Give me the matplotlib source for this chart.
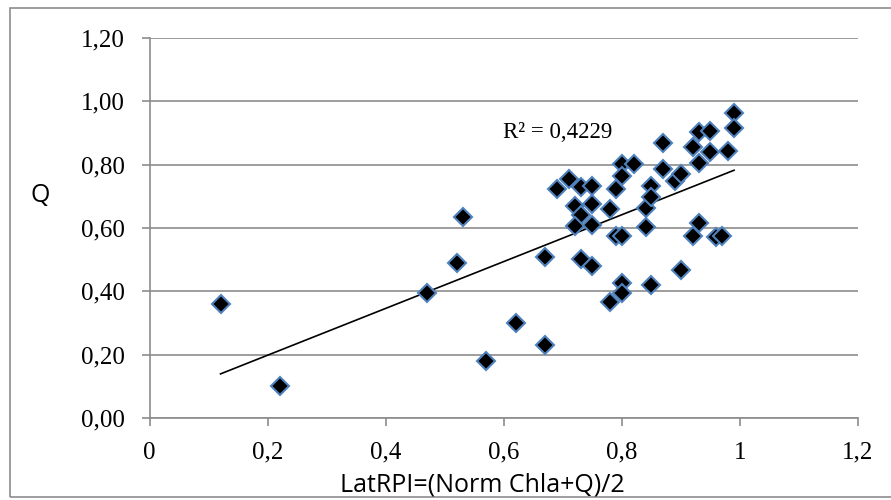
import numpy as np
import matplotlib.pyplot as plt
from matplotlib.patches import Rectangle
from matplotlib.ticker import FuncFormatter

# LatRPI vs Q values
lat_rpi = [0.12, 0.22, 0.47, 0.52, 0.53, 0.57, 0.62, 0.67, 0.67,
           0.69, 0.71, 0.73, 0.75, 0.72, 0.75, 0.73, 0.72, 0.75, 0.73, 0.75,
           0.78, 0.79, 0.80, 0.82, 0.80, 0.79, 0.80, 0.80, 0.80, 0.78,
           0.84, 0.85, 0.85, 0.84, 0.85,
           0.87, 0.87, 0.89, 0.90, 0.90,
           0.92, 0.93, 0.95, 0.93, 0.95, 0.98, 0.99, 0.99,
           0.93, 0.92, 0.96, 0.97]
q_vals = [0.36, 0.10, 0.395, 0.49, 0.635, 0.18, 0.30, 0.51, 0.23,
          0.723, 0.754, 0.728, 0.733, 0.669, 0.675, 0.641, 0.606, 0.609, 0.502, 0.481,
          0.660, 0.723, 0.802, 0.802, 0.764, 0.576, 0.576, 0.425, 0.394, 0.367,
          0.662, 0.733, 0.697, 0.602, 0.420,
          0.867, 0.786, 0.749, 0.772, 0.467,
          0.857, 0.904, 0.907, 0.806, 0.839, 0.844, 0.962, 0.915,
          0.617, 0.576, 0.572, 0.576]
r2_label = "R² = 0,4229"
x_ticks = [0, 0.2, 0.4, 0.6, 0.8, 1, 1.2]
y_ticks = [0, 0.2, 0.4, 0.6, 0.8, 1.0, 1.2]

fig = plt.figure(figsize=(8.91, 5.0), dpi=100)
ax = fig.add_axes([0.168, 0.164, 0.795, 0.760])

ax.plot(lat_rpi, q_vals, linestyle='none', marker='D', markersize=9,
        markerfacecolor='black', markeredgecolor='#4F81BD', markeredgewidth=1.5, zorder=3)

# linear trend line
k, b = np.polyfit(lat_rpi, q_vals, 1)
xs = np.array([min(lat_rpi), max(lat_rpi)])
ax.plot(xs, k * xs + b, color='black', linewidth=1.2, zorder=2)

ax.text(0.598, 0.90, r2_label, fontsize=16.5, family='Liberation Serif', va='center', ha='left')

ax.set_xlim(0, 1.2)
ax.set_ylim(0, 1.2)
ax.set_xticks(x_ticks)
ax.set_yticks(y_ticks)
ax.xaxis.set_major_formatter(FuncFormatter(lambda v, p: ('%g' % round(v, 1)).replace('.', ',')))
ax.yaxis.set_major_formatter(FuncFormatter(lambda v, p: ('%.2f' % v).replace('.', ',')))
ax.grid(axis='y', color='#8c8c8c', linewidth=1.2)
ax.set_axisbelow(True)
for s in ['top', 'right']:
    ax.spines[s].set_visible(False)
for s in ['left', 'bottom']:
    ax.spines[s].set_color('#8c8c8c')
    ax.spines[s].set_linewidth(1.2)
ax.tick_params(axis='both', colors='#8c8c8c', length=6, width=1.2, labelcolor='black',
               labelsize=18)
for lab in ax.get_xticklabels() + ax.get_yticklabels():
    lab.set_family('Liberation Serif')
ax.tick_params(axis='x', pad=11)
ax.tick_params(axis='y', pad=12)

fig.text(0.045, 0.61, 'Q', fontsize=18, family='Open Sans', ha='center', va='center')
fig.text(0.541, 0.03, 'LatRPI=(Norm Chla+Q)/2', fontsize=18, family='Open Sans', ha='center', va='center')

fig.patches.append(Rectangle((0.011, 0.006), 1.2, 0.978, transform=fig.transFigure,
                             fill=False, edgecolor='#8c8c8c', linewidth=1.2))

fig.savefig('out.png', dpi=100)
